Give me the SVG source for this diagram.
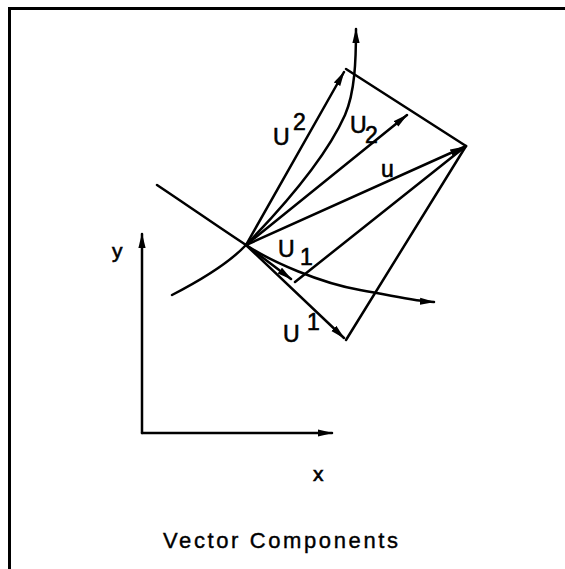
<svg xmlns="http://www.w3.org/2000/svg" width="565" height="569" viewBox="0 0 565 569">
<style>
.ln{fill:none;stroke:#000;stroke-width:2.5;stroke-linecap:round;stroke-linejoin:round}
.ar{marker-end:url(#ah)}
.fr{fill:none;stroke:#000;stroke-width:3}
.lb{font-family:"Liberation Sans",Arial,sans-serif;font-size:23px;fill:#000;stroke:#000;stroke-width:0.6}
.ax{font-family:"Liberation Sans",Arial,sans-serif;font-size:21px;fill:#000;stroke:#000;stroke-width:0.6}
.tt{font-family:"Liberation Sans",Arial,sans-serif;font-size:22px;fill:#000;stroke:#000;stroke-width:0.4}
</style>
<defs>
<marker id="ah" markerUnits="userSpaceOnUse" markerWidth="17" markerHeight="9" refX="14" refY="4" orient="auto">
<path d="M0,0.4 L15,4 L0,7.6 Z" fill="#000"/>
</marker>
</defs>
<rect width="565" height="569" fill="#fff"/>
<g id="frame">
<line class="fr" x1="9.5" y1="8.5" x2="565" y2="8.5"/>
<line class="fr" x1="9.5" y1="7" x2="9.5" y2="569"/>
</g>
<g id="axes">
<line class="ln ar" x1="142" y1="433" x2="142" y2="234"/>
<line class="ln ar" x1="142" y1="433" x2="332" y2="433"/>
<text class="ax" x="112" y="258">y</text>
<text class="ax" x="313" y="481">x</text>
</g>
<g id="connectors">
<path id="curve1" class="ln ar" d="M157,185 C190,207 220,228 246,245 S320,283 360,290 S415,301 434,302"/>
<path id="curve2" class="ln ar" d="M172,295 C205,278 230,262 246,245 C280,210 325,160 345,115 C355,92 356,60 356,29"/>
<line id="vU2sup" class="ln ar" x1="246" y1="245" x2="344" y2="72"/>
<line id="vU1sup" class="ln ar" x1="246" y1="245" x2="344" y2="338"/>
<line id="vu" class="ln ar" x1="246" y1="245" x2="464" y2="147"/>
<line id="vU2sub" class="ln ar" x1="246" y1="245" x2="407" y2="115"/>
<line id="vU1sub" class="ln ar" x1="246" y1="245" x2="291" y2="279"/>
<line id="edgeTop" class="ln" x1="346" y1="69" x2="466" y2="146"/>
<line id="edgeRight" class="ln" x1="466" y1="146" x2="346" y2="340"/>
<line id="projection" class="ln" x1="295" y1="282" x2="466" y2="146"/>
</g>
<g id="labels">
<g id="lab-U2sup"><text class="lb" x="273" y="145">U</text><text class="lb" x="293" y="130">2</text></g>
<g id="lab-U2sub"><text class="lb" x="350" y="133">U</text><text class="lb" x="365" y="143">2</text></g>
<g id="lab-u"><text class="lb" x="381" y="177" font-size="24">u</text></g>
<g id="lab-U1sub"><text class="lb" x="278" y="257">U</text><text class="lb" x="300" y="265">1</text></g>
<g id="lab-U1sup"><text class="lb" x="283" y="342">U</text><text class="lb" x="307" y="330">1</text></g>
</g>
<g id="title">
<text class="tt" x="163" y="548" textLength="235" lengthAdjust="spacing">Vector Components</text>
</g>
</svg>
